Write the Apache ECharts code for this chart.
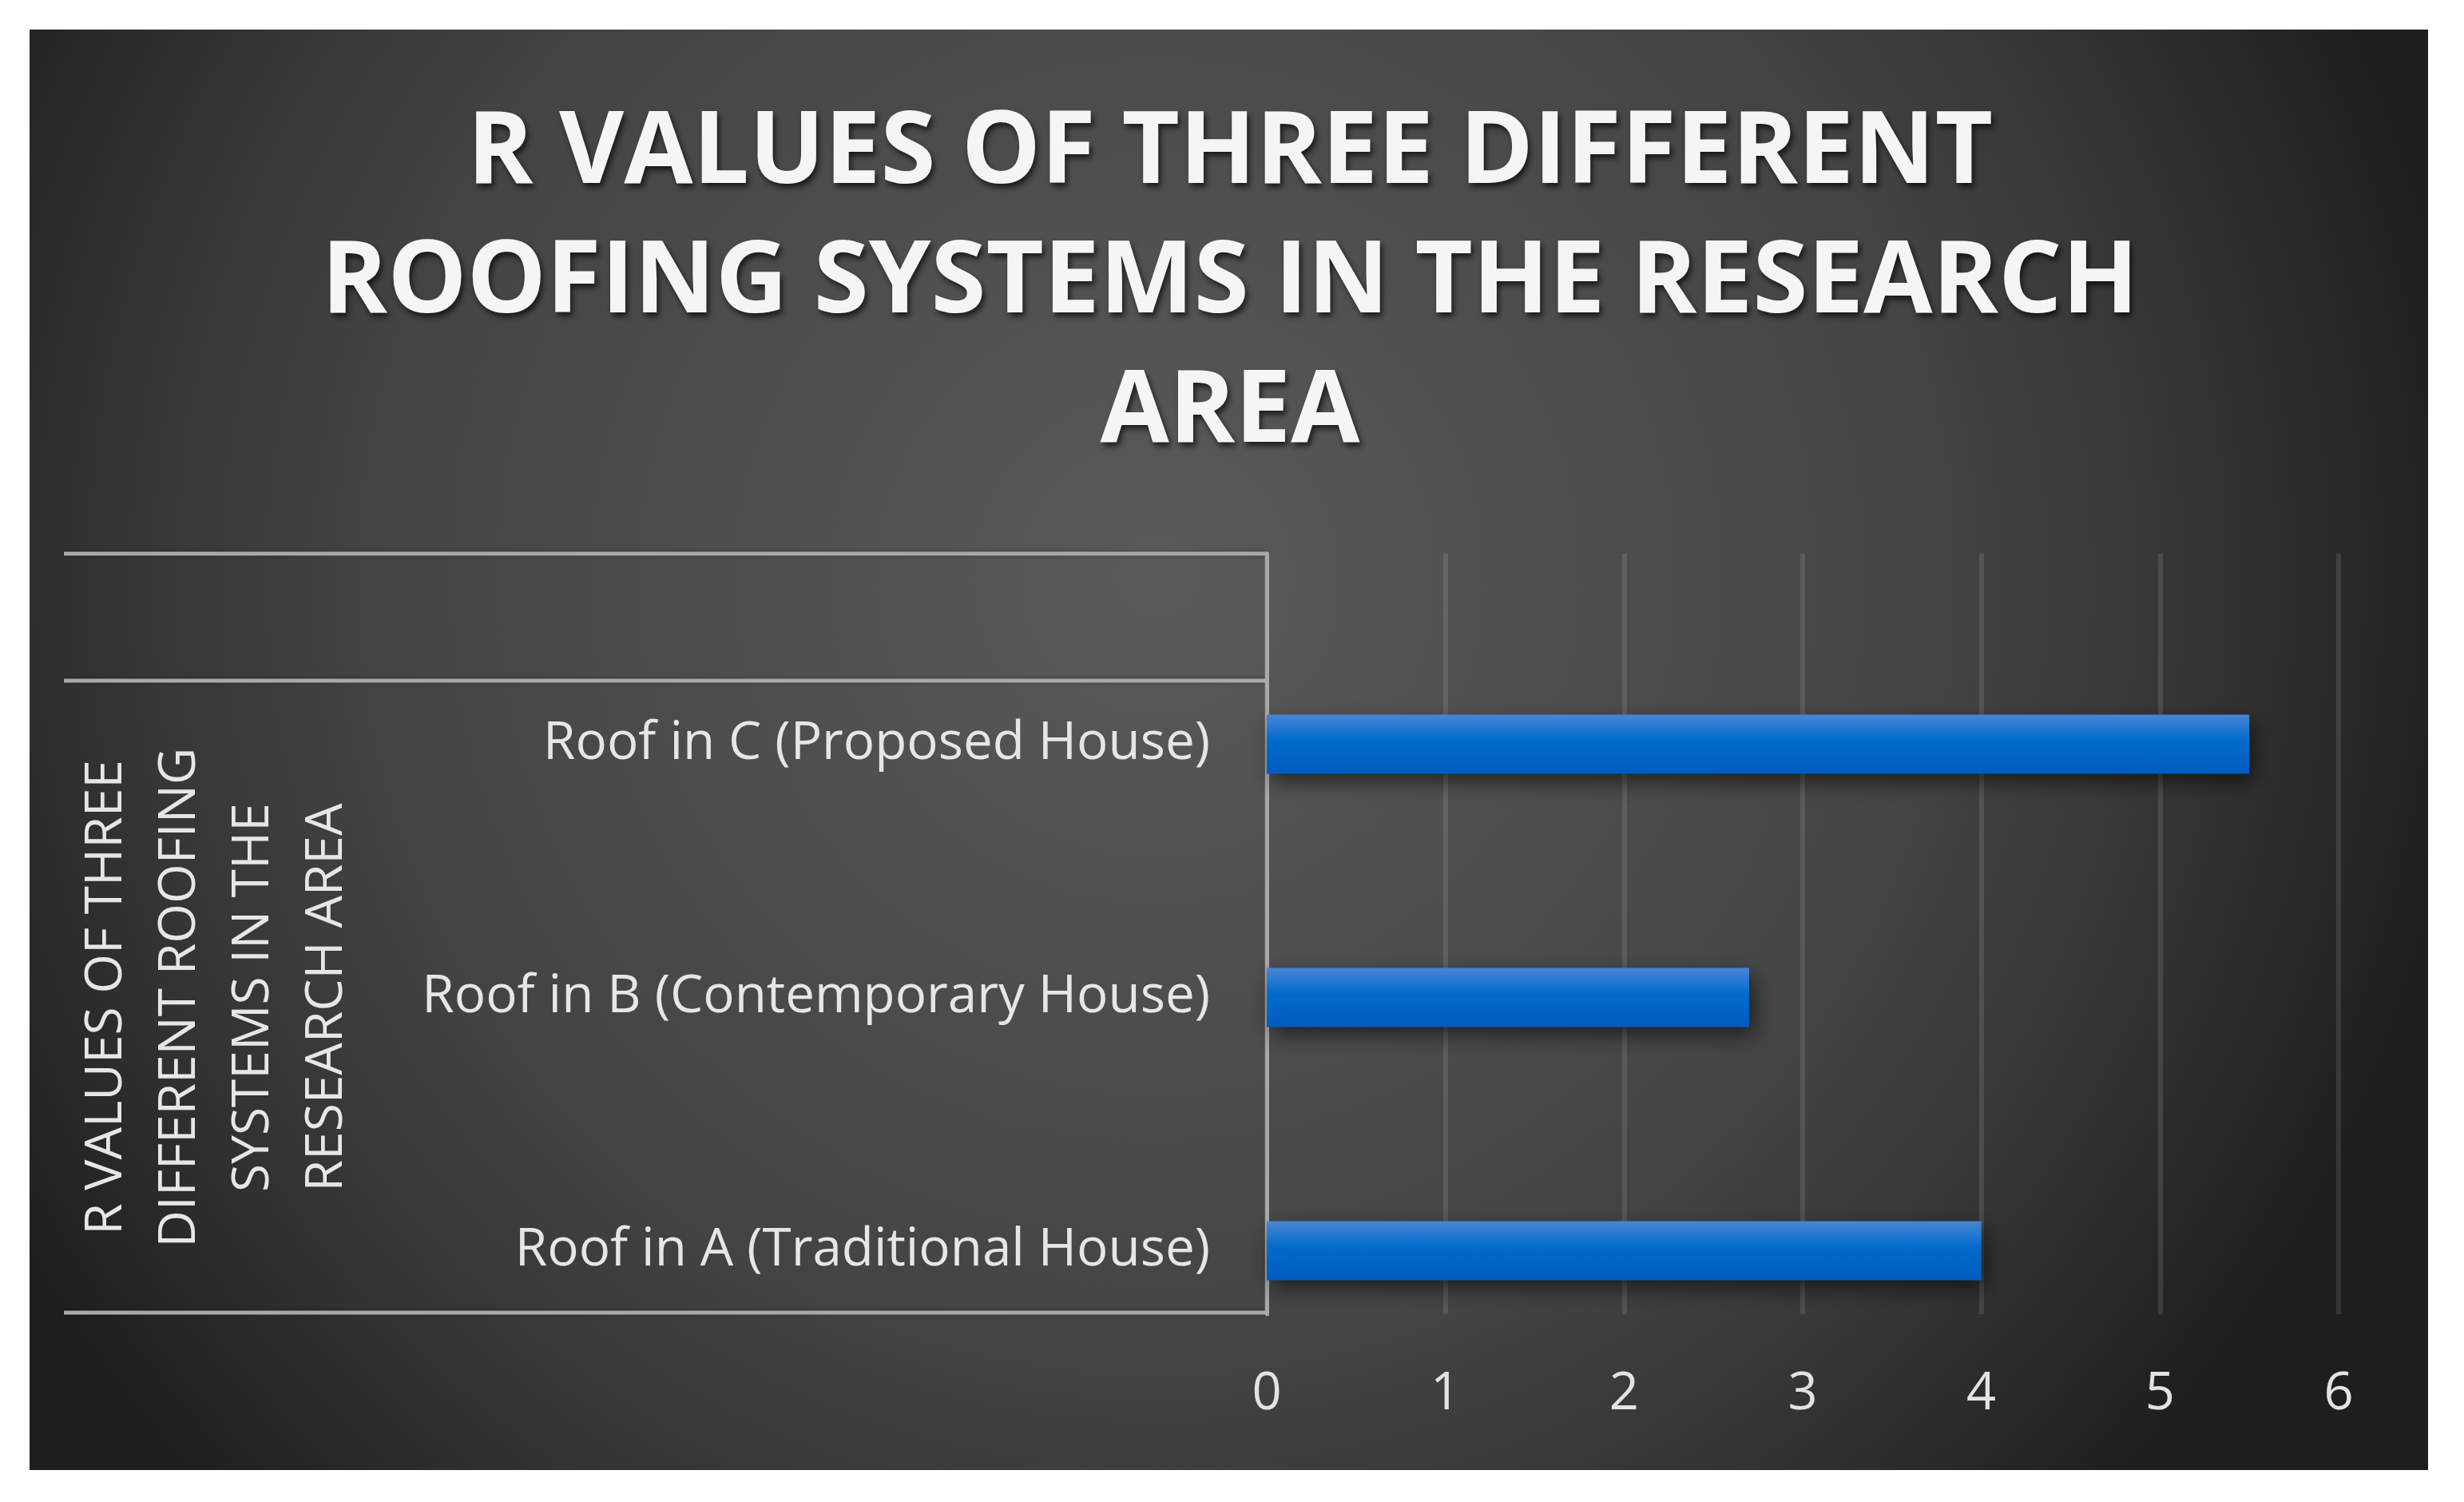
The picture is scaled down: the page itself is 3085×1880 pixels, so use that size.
<!DOCTYPE html>
<html>
<head>
<meta charset="utf-8">
<script src="https://cdn.jsdelivr.net/npm/echarts@6/dist/echarts.min.js"></script>
<style>
  html, body { margin: 0; padding: 0; background: #ffffff; width: 3085px; height: 1880px; overflow: hidden; }
  #chart { position: absolute; left: 37px; top: 37px; width: 3003px; height: 1803px; }
</style>
</head>
<body>
<div id="chart"></div>
<script>
// ---- data ----
const categories = ['Roof in A (Traditional House)', 'Roof in B (Contemporary House)', 'Roof in C (Proposed House)'];
const rValues = [4.0, 2.7, 5.5];
const valueMin = 0;
const valueMax = 6;
const valueStep = 1;
const chartTitle = 'R VALUES OF THREE DIFFERENT\nROOFING SYSTEMS IN THE RESEARCH\nAREA';
const groupLabel = 'R VALUES OF THREE\nDIFFERENT ROOFING\nSYSTEMS IN THE\nRESEARCH AREA';

const chart = echarts.init(document.getElementById('chart'), null, { renderer: 'canvas' });

const boxLine = { stroke: '#a8a8a8', lineWidth: 5, shadowBlur: 4, shadowColor: 'rgba(0,0,0,0.4)' };

const option = {
  animation: false,
  backgroundColor: {
    type: 'radial', x: 0.47, y: 0.38, r: 0.92,
    colorStops: [
      { offset: 0, color: '#5a5a5a' },
      { offset: 0.6, color: '#434343' },
      { offset: 0.8, color: '#333333' },
      { offset: 1, color: '#1e1e1e' }
    ]
  },
  title: {
    text: chartTitle,
    left: 1498,
    top: 70,
    textAlign: 'center',
    textStyle: {
      fontFamily: 'Open Sans',
      fontWeight: 'bold',
      fontSize: 125,
      lineHeight: 162,
      color: '#f5f5f5',
      textShadowColor: 'rgba(0,0,0,0.65)',
      textShadowBlur: 7,
      textShadowOffsetX: 3,
      textShadowOffsetY: 5
    }
  },
  grid: [
    { left: 1549, right: 112, top: 656, bottom: 195, containLabel: false },
    { left: 1549, right: 112, top: 736, bottom: 116, containLabel: false }
  ],
  xAxis: [
    {
      type: 'value', gridIndex: 0, min: valueMin, max: valueMax, interval: valueStep,
      axisLine: { show: false }, axisTick: { show: false },
      splitLine: { show: true, lineStyle: { color: 'rgba(255,255,255,0.11)', width: 6 } },
      axisLabel: { fontFamily: 'Open Sans', fontSize: 65, color: '#e3e3e3', margin: 68 }
    },
    {
      type: 'value', gridIndex: 1, min: valueMin, max: valueMax, interval: valueStep,
      show: false
    }
  ],
  yAxis: [
    {
      type: 'category', gridIndex: 0, data: categories,
      axisLine: { show: true, lineStyle: { color: '#a8a8a8', width: 5 } },
      axisTick: { show: false }, axisLabel: { show: false }, splitLine: { show: false }
    },
    {
      type: 'category', gridIndex: 1, data: categories,
      axisLine: { show: false }, axisTick: { show: false }, splitLine: { show: false },
      axisLabel: { fontFamily: 'Open Sans', fontSize: 65.5, color: '#e6e6e6', margin: 71 },
      name: groupLabel,
      nameLocation: 'middle',
      nameRotate: 90,
      nameGap: 1130,
      nameTextStyle: { fontFamily: 'Open Sans', fontSize: 64, lineHeight: 92, color: '#e6e6e6', align: 'center' }
    }
  ],
  series: [
    {
      type: 'bar',
      xAxisIndex: 1, yAxisIndex: 1,
      data: rValues,
      barWidth: 74,
      itemStyle: {
        color: {
          type: 'linear', x: 0, y: 0, x2: 0, y2: 1,
          colorStops: [
            { offset: 0, color: '#4a85d5' },
            { offset: 0.45, color: '#006bcc' },
            { offset: 1, color: '#005bbf' }
          ]
        },
        shadowColor: 'rgba(0,0,0,0.55)',
        shadowBlur: 24,
        shadowOffsetX: 6,
        shadowOffsetY: 10
      }
    }
  ],
  graphic: [
    { type: 'line', shape: { x1: 43, y1: 656, x2: 1549, y2: 656 }, style: boxLine, silent: true },
    { type: 'line', shape: { x1: 43, y1: 815, x2: 1549, y2: 815 }, style: boxLine, silent: true },
    { type: 'line', shape: { x1: 43, y1: 1606, x2: 1549, y2: 1606 }, style: boxLine, silent: true }
  ]
};

chart.setOption(option);
</script>
</body>
</html>
